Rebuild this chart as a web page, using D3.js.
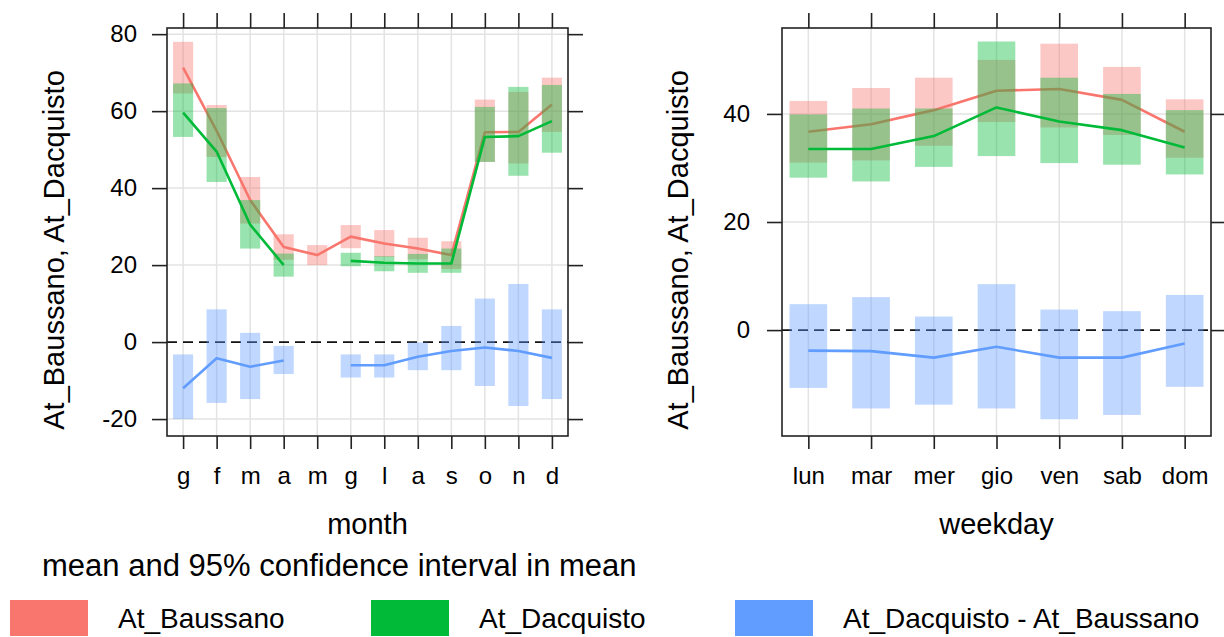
<!DOCTYPE html>
<html>
<head>
<meta charset="utf-8">
<script src="https://cdn.jsdelivr.net/npm/d3@7"></script>
<style>
  body { margin: 0; background: #fff; }
  svg { display: block; font-family: "Liberation Sans", Arial, sans-serif; }
</style>
</head>
<body>
<svg id="chart" width="1224" height="637"></svg>
<script>
// ---- data: monthly means and 95% CI ----
const monthLabels = ["g", "f", "m", "a", "m", "g", "l", "a", "s", "o", "n", "d"];

const baussanoMonthMean = [71.3, 54.9, 36.9, 24.7, 22.6, 27.4, 25.6, 24.3, 22.6, 54.5, 54.6, 61.7];
const baussanoMonthLo   = [64.6, 48.1, 30.8, 21.4, 20.0, 24.4, 22.1, 21.5, 19.0, 46.8, 46.4, 54.6];
const baussanoMonthHi   = [78.0, 61.6, 42.9, 28.0, 25.2, 30.4, 29.1, 27.1, 26.2, 63.0, 65.0, 68.7];

const dacquistoMonthMean = [59.6, 49.5, 30.5, 20.0, null, 21.1, 20.6, 20.4, 20.4, 53.3, 53.5, 57.4];
const dacquistoMonthLo   = [53.3, 41.6, 24.3, 17.0, null, 19.7, 18.4, 18.0, 18.0, 46.8, 43.2, 49.2];
const dacquistoMonthHi   = [67.2, 60.8, 36.9, 23.0, null, 23.2, 22.3, 22.9, 24.3, 61.1, 66.3, 66.8];

const diffMonthMean = [-12.0, -4.2, -6.4, -4.8, null, -6.0, -6.0, -3.8, -2.3, -1.4, -2.3, -4.1];
const diffMonthLo   = [-20.0, -15.8, -14.8, -8.3, null, -9.2, -9.2, -7.3, -7.3, -11.4, -16.6, -14.8];
const diffMonthHi   = [-3.2, 8.5, 2.4, -1.0, null, -3.2, -3.2, -0.1, 4.2, 11.3, 15.1, 8.5];

const monthYTicks = [-20, 0, 20, 40, 60, 80];

// ---- data: weekday means and 95% CI ----
const dayLabels = ["lun", "mar", "mer", "gio", "ven", "sab", "dom"];

const baussanoDayMean = [36.7, 38.1, 40.7, 44.3, 44.6, 42.6, 36.7];
const baussanoDayLo   = [31.0, 31.4, 34.1, 38.5, 37.5, 36.1, 31.9];
const baussanoDayHi   = [42.4, 44.8, 46.7, 50.0, 53.0, 48.7, 42.7];

const dacquistoDayMean = [33.5, 33.5, 35.9, 41.2, 38.6, 37.0, 33.8];
const dacquistoDayLo   = [28.2, 27.5, 30.2, 32.2, 30.9, 30.6, 28.8];
const dacquistoDayHi   = [39.9, 41.0, 41.0, 53.4, 46.7, 43.7, 40.7];

const diffDayMean = [-3.8, -3.9, -5.1, -3.1, -5.1, -5.1, -2.5];
const diffDayLo   = [-10.7, -14.5, -13.8, -14.5, -16.5, -15.7, -10.5];
const diffDayHi   = [4.8, 6.1, 2.5, 8.5, 3.8, 3.5, 6.5];

const dayYTicks = [0, 20, 40];

const seriesNames = ["At_Baussano", "At_Dacquisto", "At_Dacquisto - At_Baussano"];
const seriesColors = ["#F8766D", "#00BA38", "#619CFF"];

const svg = d3.select("#chart");

function drawPanel(opt) {
  const { left, right, top, bottom, yDomain, yTicks, labels, padding, series,
          xTitle, yTitleX, labelPad } = opt;
  const n = labels.length;
  const x = d3.scalePoint().domain(d3.range(n)).range([left, right]).padding(padding);
  const y = d3.scaleLinear().domain(yDomain).range([bottom, top]);
  const boxW = x.step() * 0.6;
  const g = svg.append("g");

  // grid
  const grid = g.append("g").attr("stroke", "#e3e3e3").attr("stroke-width", 1.5);
  grid.selectAll("line.v").data(d3.range(n)).join("line")
    .attr("x1", d => x(d)).attr("x2", d => x(d)).attr("y1", top).attr("y2", bottom);
  grid.selectAll("line.h").data(yTicks.filter(t => t !== 0)).join("line")
    .attr("x1", left).attr("x2", right).attr("y1", d => y(d)).attr("y2", d => y(d));

  // zero reference
  g.append("line")
    .attr("x1", left).attr("x2", right).attr("y1", y(0)).attr("y2", y(0))
    .attr("stroke", "#111").attr("stroke-width", 1.6).attr("stroke-dasharray", "10,6");

  // CI boxes and mean lines, one series at a time
  series.forEach((s, k) => {
    const rows = d3.range(n).map(i => ({ i, m: s.mean[i], lo: s.lo[i], hi: s.hi[i] }));
    g.append("g").selectAll("rect").data(rows.filter(d => d.m != null)).join("rect")
      .attr("x", d => x(d.i) - boxW / 2)
      .attr("width", boxW)
      .attr("y", d => y(d.hi))
      .attr("height", d => y(d.lo) - y(d.hi))
      .attr("fill", seriesColors[k])
      .attr("fill-opacity", 0.4);
    const line = d3.line().defined(d => d.m != null).x(d => x(d.i)).y(d => y(d.m));
    g.append("path").datum(rows).attr("d", line)
      .attr("fill", "none").attr("stroke", seriesColors[k]).attr("stroke-width", 2.6)
      .attr("stroke-linejoin", "round");
  });

  // frame
  g.append("rect").attr("x", left).attr("y", top)
    .attr("width", right - left).attr("height", bottom - top)
    .attr("fill", "none").attr("stroke", "#222").attr("stroke-width", 1.6);

  const styleAxis = sel => {
    sel.select(".domain").remove();
    sel.selectAll(".tick line").attr("stroke", "#222").attr("stroke-width", 1.6);
    sel.selectAll("text").attr("fill", "#000").style("font-size", "24px")
      .style("font-family", '"Liberation Sans", Arial, sans-serif');
  };

  g.append("g").attr("transform", `translate(${left},0)`)
    .call(d3.axisLeft(y).tickValues(yTicks).tickSize(15).tickPadding(labelPad).tickFormat(d => String(d)))
    .call(styleAxis);
  g.append("g").attr("transform", `translate(${right},0)`)
    .call(d3.axisRight(y).tickValues(yTicks).tickSize(15).tickFormat(""))
    .call(styleAxis);
  g.append("g").attr("transform", `translate(0,${top})`)
    .call(d3.axisTop(x).tickSize(15).tickFormat(""))
    .call(styleAxis);
  g.append("g").attr("transform", `translate(0,${bottom})`)
    .call(d3.axisBottom(x).tickSize(13).tickPadding(18).tickFormat(i => labels[i]))
    .call(styleAxis);

  // axis titles
  g.append("text").attr("x", (left + right) / 2).attr("y", 534)
    .attr("text-anchor", "middle").style("font-size", "29px").text(xTitle);
  g.append("text")
    .attr("transform", `translate(${yTitleX},${(top + bottom) / 2 + 18}) rotate(-90)`)
    .attr("text-anchor", "middle").style("font-size", "29px")
    .text("At_Baussano, At_Dacquisto");
}

drawPanel({
  left: 167, right: 568, top: 28, bottom: 436,
  yDomain: [-24.4, 81.6], yTicks: monthYTicks, labels: monthLabels, padding: 0.48,
  xTitle: "month", yTitleX: 64, labelPad: 15,
  series: [
    { mean: baussanoMonthMean, lo: baussanoMonthLo, hi: baussanoMonthHi },
    { mean: dacquistoMonthMean, lo: dacquistoMonthLo, hi: dacquistoMonthHi },
    { mean: diffMonthMean, lo: diffMonthLo, hi: diffMonthHi }
  ]
});

drawPanel({
  left: 782, right: 1211, top: 28, bottom: 436,
  yDomain: [-19.6, 55.9], yTicks: dayYTicks, labels: dayLabels, padding: 0.42,
  xTitle: "weekday", yTitleX: 688, labelPad: 17,
  series: [
    { mean: baussanoDayMean, lo: baussanoDayLo, hi: baussanoDayHi },
    { mean: dacquistoDayMean, lo: dacquistoDayLo, hi: dacquistoDayHi },
    { mean: diffDayMean, lo: diffDayLo, hi: diffDayHi }
  ]
});

// caption and key
svg.append("text").attr("x", 42).attr("y", 576).style("font-size", "31px")
  .text("mean and 95% confidence interval in mean");

const keyX = [10, 371, 735];
const key = svg.append("g").selectAll("g").data(seriesNames).join("g")
  .attr("transform", (d, i) => `translate(${keyX[i]},0)`);
key.append("rect").attr("x", 0).attr("y", 600).attr("width", 78).attr("height", 36)
  .attr("fill", (d, i) => seriesColors[i]);
key.append("text").attr("x", 108).attr("y", 628).style("font-size", "28px").text(d => d);
</script>
</body>
</html>
